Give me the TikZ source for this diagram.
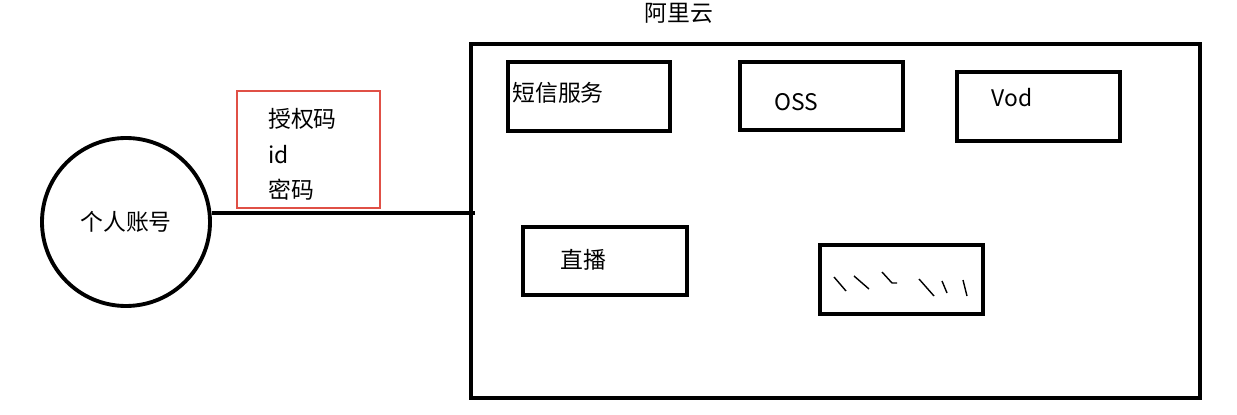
\documentclass[tikz,border=0pt]{standalone}
\usepackage{fontspec}
\setmainfont{Liberation Sans}
\newfontfamily\cjk{Noto Sans CJK SC}
\usetikzlibrary{positioning}
\definecolor{boxred}{RGB}{224,80,70}

\begin{document}
\begin{tikzpicture}[x=0.02cm, y=-0.02cm,
  svcbox/.style={draw, line width=2.2pt},
  lbl/.style={font=\cjk\fontsize{13}{15}\selectfont}]

  \useasboundingbox[fill=white] (0, 0) rectangle (1237, 415);

  % cloud
  \draw[line width=2.2pt] (471, 44) rectangle (1200, 398);
  \node[lbl] (cloud) at (679, 13) {阿里云};

  \draw[svcbox] (508, 62) rectangle (670, 131);
  \node[lbl] (sms) at (558, 93) {短信服务};
  \draw[svcbox] (740, 62) rectangle (903, 130);
  \node[lbl] (oss) at (796, 102) {OSS};
  \draw[svcbox] (957, 72) rectangle (1120, 141);
  \node[lbl] (vod) at (1012, 98) {Vod};
  \draw[svcbox] (523, 227) rectangle (687, 295);
  \node[lbl] (live) at (583, 260) {直播};
  \draw[svcbox] (820, 245) rectangle (983, 314);

  % scribbles
  \draw[line width=0.8pt] (834, 277) -- (846, 291);
  \draw[line width=0.8pt] (854, 276) -- (869, 289);
  \draw[line width=0.8pt] (882, 272) -- (892, 283) -- (897, 283);
  \draw[line width=0.8pt] (919, 279) -- (934, 296);
  \draw[line width=0.8pt] (942, 281) -- (947, 293);
  \draw[line width=0.8pt] (963, 280) -- (967, 296);

  % account
  \node[draw, circle, line width=2.2pt, minimum size=168*0.02cm, lbl] (acct) at (126, 222) {个人账号};
  \coordinate (entry) at (475, 213);
  \draw[line width=2.2pt] (acct.east |- entry) -- (entry);

  \draw[boxred, line width=1.5pt] (237, 91) rectangle (380, 208);
  \node[lbl, anchor=west] (code) at (262, 119) {授权码};
  \node[lbl, anchor=west] (uid) at (262, 155) {id};
  \node[lbl, anchor=west] (pwd) at (262, 190) {密码};

\end{tikzpicture}
\end{document}
